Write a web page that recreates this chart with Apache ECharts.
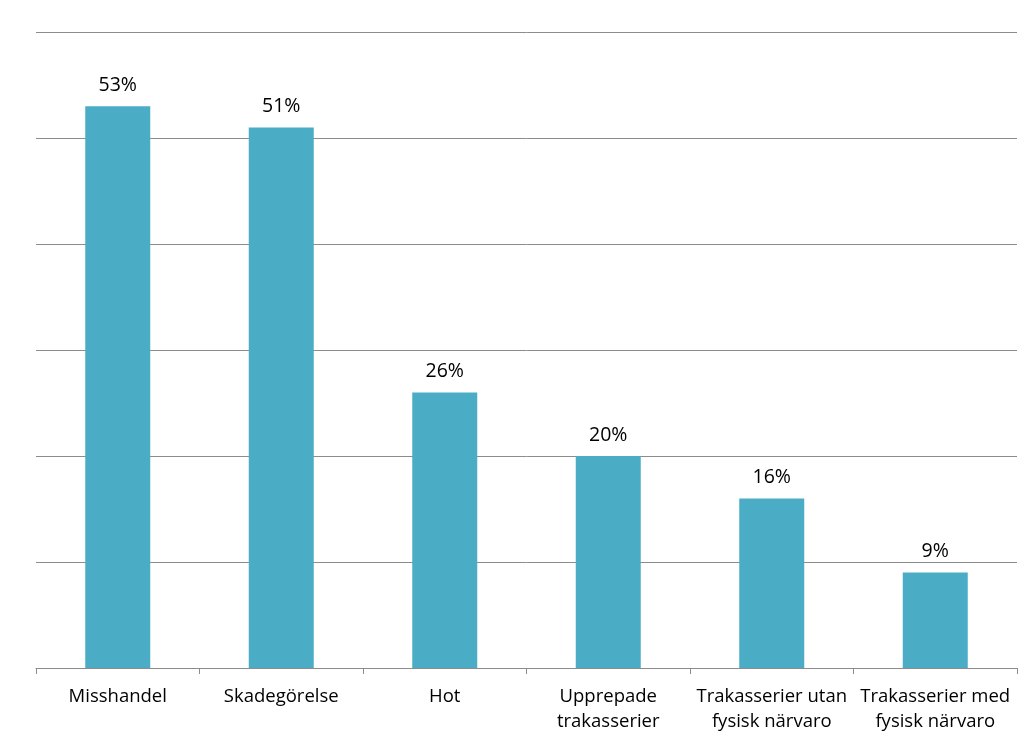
<!DOCTYPE html>
<html>
<head>
<meta charset="utf-8">
<script src="https://cdn.jsdelivr.net/npm/echarts@6/dist/echarts.min.js"></script>
<style>
  html, body { margin: 0; padding: 0; background: #fff; }
  #chart { width: 1024px; height: 740px; }
</style>
</head>
<body>
<div id="chart"></div>
<script>
// kategorier och andelar (%)
var categories = [
  "Misshandel",
  "Skadegörelse",
  "Hot",
  "Upprepade\ntrakasserier",
  "Trakasserier utan\nfysisk närvaro",
  "Trakasserier med\nfysisk närvaro"
];
var shares = [53, 51, 26, 20, 16, 9];

var chart = echarts.init(document.getElementById("chart"));
chart.setOption({
  animation: false,
  grid: {
    left: 36,
    right: 7,
    top: 32,
    bottom: 72
  },
  xAxis: {
    type: "category",
    data: categories,
    axisLine: { lineStyle: { color: "#8c8c8c", width: 1 } },
    axisTick: { show: true, length: 6, lineStyle: { color: "#8c8c8c" } },
    axisLabel: {
      color: "#000",
      fontFamily: "Open Sans",
      fontSize: 18.5,
      lineHeight: 25,
      margin: 16,
      interval: 0
    }
  },
  yAxis: {
    type: "value",
    min: 0,
    max: 60,
    interval: 10,
    axisLabel: { show: false },
    axisLine: { show: false },
    axisTick: { show: false },
    splitLine: { lineStyle: { color: "#8c8c8c", width: 1 } }
  },
  series: [
    {
      type: "bar",
      data: shares,
      barWidth: 65,
      itemStyle: { color: "#4bacc6" },
      label: {
        show: true,
        position: "top",
        distance: 11,
        formatter: "{c}%",
        color: "#000",
        fontFamily: "Open Sans",
        fontSize: 19.5
      }
    }
  ]
});
</script>
</body>
</html>
